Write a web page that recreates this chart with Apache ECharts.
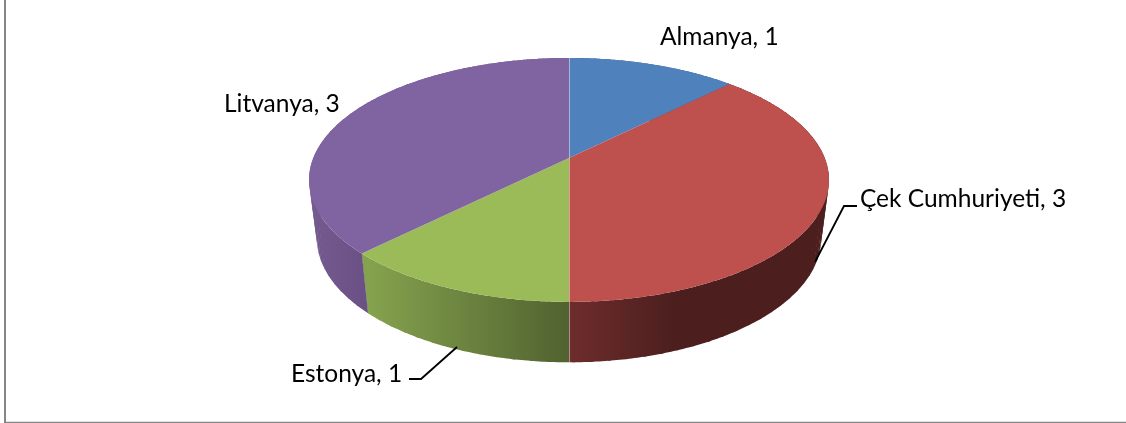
<!DOCTYPE html>
<html><head><meta charset="utf-8">
<style>html,body{margin:0;padding:0;background:#fff}#c{width:1126px;height:423px}</style>
<script src="https://cdn.jsdelivr.net/npm/echarts@6/dist/echarts.min.js"></script>
</head><body><div id="c"></div>
<script>
const categories = ['Almanya', 'Çek Cumhuriyeti', 'Estonya', 'Litvanya'];
const seriesValues = [1, 3, 1, 3];
const topColors = ['#4F81BD', '#BE504D', '#9BBB59', '#8064A2'];
const wallStops = [
  [[0, '#3a5f8c'], [1, '#3a5f8c']],
  [[0, '#6E2C2C'], [0.4, '#4C1F1E'], [1, '#4C1F1E']],
  [[0, '#85A34E'], [1, '#516230']],
  [[0, '#745A8E'], [1, '#6A5085']]
];
const wallRanges = [[569, 830], [569, 830], [367, 569], [310, 367]];
const labelAnchors = [[660, 37], [860, 199], [291, 374], [224, 104]];
const leaders = [null, [[815, 262], [844, 206], [857, 206]], [[457, 347], [421, 379], [409, 379]], null];

const total = seriesValues.reduce((a, b) => a + b, 0);
const topPlane = { cx: 569, cy: 158, a: 255.7, b: 118, k: 0.18 };
const botPlane = { cx: 569, cy: 216, a: 248, b: 120, k: 0.18 };
function proj(pl, ang) {
  const x = Math.sin(ang), y = Math.cos(ang), d = 1 + pl.k * y;
  return [pl.cx + pl.a * x / d, pl.cy - pl.b * y / d];
}
function arc(pl, a0, a1) {
  const n = Math.max(2, Math.ceil((a1 - a0) / 0.01)), pts = [];
  for (let i = 0; i <= n; i++) pts.push(proj(pl, a0 + (a1 - a0) * i / n));
  return pts;
}
function startAngle(i) {
  let s = 0;
  for (let j = 0; j < i; j++) s += seriesValues[j];
  return s / total * 2 * Math.PI;
}
function renderItem(params, api) {
  const i = params.dataIndex;
  const a0 = startAngle(i), a1 = a0 + api.value(0) / total * 2 * Math.PI;
  const topArc = arc(topPlane, a0, a1), botArc = arc(botPlane, a0, a1);
  const children = [];
  const wallFill = { type: 'linear', global: true, x: wallRanges[i][0], y: 0, x2: wallRanges[i][1], y2: 0,
    colorStops: wallStops[i].map(s => ({ offset: s[0], color: s[1] })) };
  const step = 6;
  for (let s = 0; s < topArc.length - 1; s += step) {
    const e = Math.min(s + step + 1, topArc.length - 1);
    children.push({
      type: 'polygon', z2: 1, silent: true,
      shape: { points: topArc.slice(s, e + 1).concat(botArc.slice(s, e + 1).reverse()) },
      style: { fill: wallFill }
    });
  }
  children.push({
    type: 'polygon', z2: 2, silent: true,
    shape: { points: [[topPlane.cx, topPlane.cy]].concat(topArc) },
    style: { fill: topColors[i] }
  });
  if (Math.abs(Math.sin(a0)) < 1e-6) {
    const p = proj(topPlane, a0), q = proj(botPlane, a0);
    children.push({ type: 'line', z2: 3, silent: true,
      shape: { x1: topPlane.cx + 0.5, y1: topPlane.cy, x2: p[0] + 0.5, y2: p[1] },
      style: { stroke: 'rgba(255,255,255,0.45)', lineWidth: 1 } });
    if (Math.cos(a0) < 0) children.push({ type: 'line', z2: 3, silent: true,
      shape: { x1: p[0] + 0.5, y1: p[1], x2: q[0] + 0.5, y2: q[1] },
      style: { stroke: 'rgba(255,255,255,0.45)', lineWidth: 1 } });
  }
  if (leaders[i]) children.push({ type: 'polyline', z2: 4, silent: true,
    shape: { points: leaders[i] }, style: { stroke: '#000', lineWidth: 1.8, fill: null } });
  children.push({ type: 'text', z2: 5, silent: true, x: labelAnchors[i][0], y: labelAnchors[i][1],
    style: { text: categories[i] + ', ' + api.value(0), font: '24.5px Lato', fill: '#000',
      textAlign: 'left', textVerticalAlign: 'middle' } });
  return { type: 'group', children };
}
const chart = echarts.init(document.getElementById('c'), null, { renderer: 'canvas' });
chart.setOption({
  animation: false,
  backgroundColor: '#fff',
  graphic: [
    { type: 'line', silent: true, shape: { x1: 5, y1: 0, x2: 5, y2: 423 }, style: { stroke: '#868686', lineWidth: 2 } },
    { type: 'line', silent: true, shape: { x1: 4, y1: 422.5, x2: 1126, y2: 422.5 }, style: { stroke: '#868686', lineWidth: 1.5 } }
  ],
  series: [{ type: 'custom', coordinateSystem: 'none', renderItem,
    data: seriesValues.map((v, i) => ({ name: categories[i], value: [v] })) }]
});
</script></body></html>
